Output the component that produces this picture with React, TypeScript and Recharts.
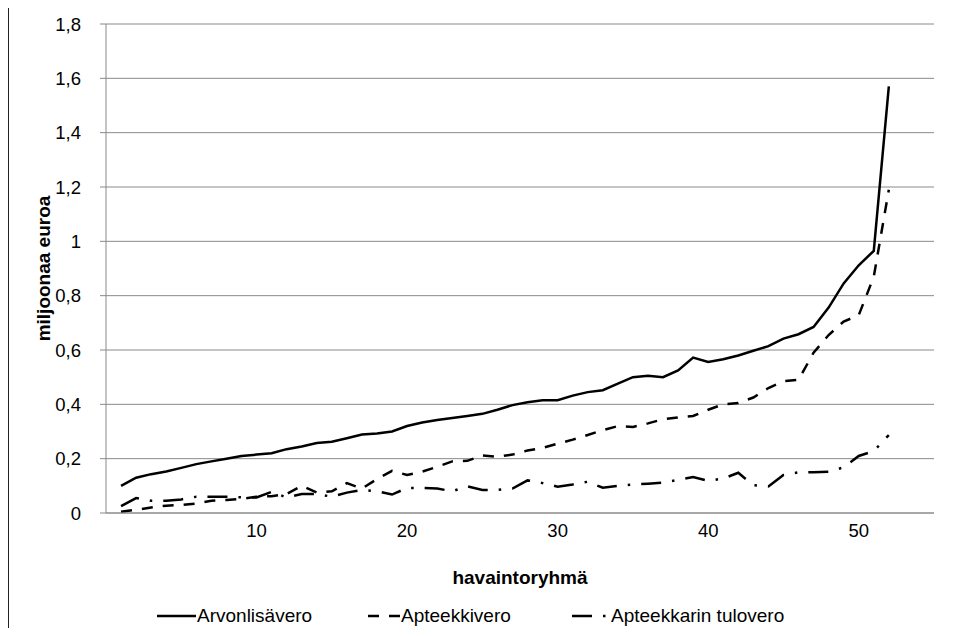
import { FC } from 'react'
import { LineChart, Line, XAxis, YAxis, CartesianGrid } from 'recharts'

const FONT = '"Liberation Sans", Arial, sans-serif'

const groups = [
    1, 2, 3, 4, 5, 6, 7, 8, 9, 10, 11, 12, 13, 14, 15, 16, 17, 18, 19, 20, 21, 22, 23, 24, 25, 26,
    27, 28, 29, 30, 31, 32, 33, 34, 35, 36, 37, 38, 39, 40, 41, 42, 43, 44, 45, 46, 47, 48, 49, 50, 51, 52,
]
const arvonlisavero = [
    0.1, 0.13, 0.143, 0.153, 0.166, 0.18, 0.19, 0.2, 0.21, 0.215, 0.22, 0.235, 0.245, 0.258, 0.262, 0.275,
    0.289, 0.293, 0.3, 0.32, 0.333, 0.342, 0.35, 0.357, 0.365, 0.38, 0.397, 0.408, 0.415, 0.415, 0.432, 0.445,
    0.452, 0.476, 0.5, 0.505, 0.5, 0.525, 0.572, 0.556, 0.566, 0.58, 0.597, 0.614, 0.642, 0.658, 0.685, 0.756,
    0.845, 0.912, 0.965, 1.57,
]
const apteekkivero = [
    0.005, 0.012, 0.02, 0.027, 0.03, 0.035, 0.045, 0.048, 0.052, 0.06, 0.062, 0.07, 0.1, 0.075, 0.08, 0.11,
    0.09, 0.125, 0.155, 0.14, 0.152, 0.17, 0.19, 0.192, 0.212, 0.207, 0.215, 0.23, 0.24, 0.255, 0.27, 0.287,
    0.305, 0.32, 0.317, 0.33, 0.345, 0.352, 0.357, 0.38, 0.4, 0.405, 0.425, 0.46, 0.485, 0.49, 0.59, 0.655,
    0.705, 0.728, 0.87, 1.19,
]
const tulovero = [
    0.025, 0.055, 0.045, 0.045, 0.05, 0.06, 0.06, 0.06, 0.058, 0.057, 0.078, 0.057, 0.07, 0.07, 0.06, 0.075,
    0.085, 0.08, 0.068, 0.092, 0.092, 0.09, 0.08, 0.098, 0.085, 0.085, 0.09, 0.12, 0.11, 0.097, 0.105, 0.115,
    0.093, 0.1, 0.105, 0.108, 0.112, 0.122, 0.132, 0.118, 0.127, 0.148, 0.102, 0.098, 0.14, 0.15, 0.15, 0.152,
    0.168, 0.21, 0.228, 0.287,
]
const xTicks = [10, 20, 30, 40, 50]
const yTicks = [0, 0.2, 0.4, 0.6, 0.8, 1, 1.2, 1.4, 1.6, 1.8]

const data = groups.map((g, i) => ({
    x: g,
    alv: arvonlisavero[i],
    apt: apteekkivero[i],
    tulo: tulovero[i],
}))

const DASHED = '11 10'
const DASHDOT = '20 11 2.5 11'

const fmtY = (v: number) => (Number.isInteger(v) ? String(v) : v.toFixed(1).replace('.', ','))

const YTitle = (props: any) => {
    const { viewBox } = props
    const cx = 35
    const cy = viewBox.y + viewBox.height / 2
    return (
        <text x={cx} y={cy} transform={`rotate(-90 ${cx} ${cy})`} textAnchor="middle"
            dominantBaseline="central" fontFamily={FONT} fontSize={19} fontWeight="bold" fill="#000">
            miljoonaa euroa
        </text>
    )
}

const XTitle = (props: any) => {
    const { viewBox } = props
    return (
        <text x={viewBox.x + viewBox.width / 2} y={viewBox.y + 64} textAnchor="middle"
            dominantBaseline="central" fontFamily={FONT} fontSize={19} fontWeight="bold" fill="#000">
            havaintoryhmä
        </text>
    )
}

interface ILegendItem {
    left: number
    width: number
    dash?: string
    label: string
}
const legendItems: ILegendItem[] = [
    { left: 149, width: 39, label: 'Arvonlisävero' },
    { left: 360, width: 32, dash: DASHED, label: 'Apteekkivero' },
    { left: 564, width: 38, dash: DASHDOT, label: 'Apteekkarin tulovero' },
]

const App: FC = () => {
    return (
        <div style={{ position: 'relative', width: 945, height: 620, fontFamily: FONT }}>
            {/* chart frame: left edge and top edge */}
            <div style={{ position: 'absolute', left: 0, top: -2, width: 945, height: 2, background: '#222' }} />
            <div style={{ position: 'absolute', left: 0, top: -2, width: 1, height: 630, background: '#222' }} />
            <LineChart width={945} height={620} data={data} margin={{ top: 16, right: 19, bottom: 0, left: 0 }}>
                <CartesianGrid vertical={false} stroke="#8a8a8a" strokeWidth={1} />
                <XAxis dataKey="x" type="number" domain={[0, 55]} ticks={xTicks} height={115}
                    tickLine={false} axisLine={{ stroke: '#8a8a8a' }}
                    tick={{ fill: '#000', fontSize: 18.5, fontFamily: FONT }} tickMargin={5}
                    label={<XTitle />} />
                <YAxis type="number" domain={[0, 1.8]} ticks={yTicks} width={98} tickSize={6} tickMargin={19}
                    tickFormatter={fmtY} axisLine={{ stroke: '#8a8a8a' }} tickLine={{ stroke: '#8a8a8a' }}
                    tick={{ fill: '#000', fontSize: 18.5, fontFamily: FONT }} interval={0}
                    label={<YTitle />} />
                <Line dataKey="alv" stroke="#000" strokeWidth={2.5} dot={false} isAnimationActive={false} />
                <Line dataKey="apt" stroke="#000" strokeWidth={2.5} strokeDasharray={DASHED} dot={false}
                    isAnimationActive={false} />
                <Line dataKey="tulo" stroke="#000" strokeWidth={2.5} strokeDasharray={DASHDOT} dot={false}
                    isAnimationActive={false} />
            </LineChart>
            {legendItems.map((it) => (
                <div key={it.label} style={{
                    position: 'absolute', left: it.left, top: 597, height: 22,
                    display: 'flex', alignItems: 'center', fontSize: 19, color: '#000',
                }}>
                    <svg width={it.width} height={10} style={{ display: 'block' }}>
                        <line x1={0} y1={5} x2={it.width} y2={5} stroke="#000" strokeWidth={2.5}
                            strokeDasharray={it.dash} />
                    </svg>
                    <span style={{ marginLeft: 1, whiteSpace: 'nowrap' }}>{it.label}</span>
                </div>
            ))}
        </div>
    )
}

export default App
